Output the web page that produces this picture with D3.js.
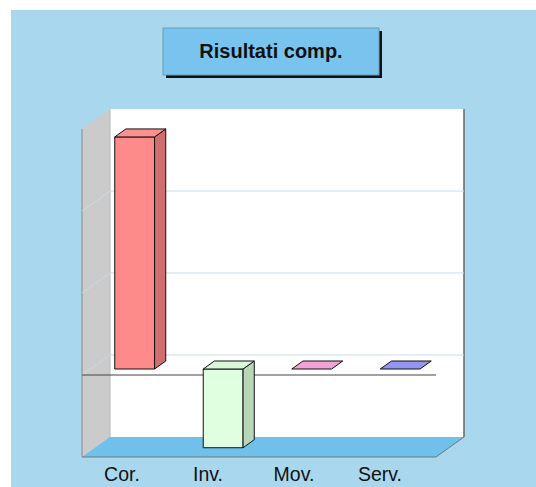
<!DOCTYPE html>
<html>
<head>
<meta charset="utf-8">
<script src="https://cdn.jsdelivr.net/npm/d3@7"></script>
<style>
  html, body { margin: 0; padding: 0; background: #fff; }
  svg { display: block; font-family: "Liberation Sans", Arial, sans-serif; }
</style>
</head>
<body>
<svg id="chart" width="536" height="487"></svg>
<script>
const categories = ['Cor.', 'Inv.', 'Mov.', 'Serv.'];
const values = [2.83, -0.96, 0, 0];
const gridTicks = [0, 1, 2];
const title = 'Risultati comp.';

// face colours per bar: front, top, side
const barColors = [
  {front: '#ff8a8a', top: '#ff9090', side: '#d06e6e'},
  {front: '#e0ffe0', top: '#d8f8d8', side: '#b8d6b8'},
  {front: '#f2a2d6', top: '#f2a2d6', side: '#c880b0'},
  {front: '#9494f2', top: '#9494f2', side: '#7070c8'}
];

const svg = d3.select('#chart');

// background
svg.append('rect')
  .attr('x', 11).attr('y', 10)
  .attr('width', 525).attr('height', 477)
  .attr('fill', '#a9d8ee');

// title box with drop shadow
svg.append('rect')
  .attr('x', 166).attr('y', 31).attr('width', 216).attr('height', 47)
  .attr('fill', '#111');
svg.append('rect')
  .attr('x', 163).attr('y', 28).attr('width', 216).attr('height', 47)
  .attr('fill', '#78c4ee')
  .attr('stroke', '#6a9fb8').attr('stroke-width', 1);
svg.append('text')
  .attr('x', 271).attr('y', 58)
  .attr('text-anchor', 'middle')
  .attr('font-size', 20).attr('font-weight', 'bold')
  .attr('fill', '#111')
  .text(title);

// plot geometry (front plane)
const x0 = 82, x1 = 436;
const depthX = 28, depthY = 20;

const y = d3.scaleLinear().domain([-1, 3]).range([457, 129]);
const x = d3.scaleBand().domain(categories).range([x0, x1])
  .paddingInner(0.55).paddingOuter(0.275);
const labelX = d3.scalePoint().domain(categories).range([122, 380]);

const yTop = y(3), yBot = y(-1);

// side wall
svg.append('polygon')
  .attr('points', [[x0, yTop], [x0 + depthX, yTop - depthY], [x0 + depthX, yBot - depthY], [x0, yBot]].join(' '))
  .attr('fill', '#cbcbcb');
svg.append('line')
  .attr('x1', x0).attr('x2', x0).attr('y1', yTop).attr('y2', yBot)
  .attr('stroke', '#8a8a8a');

// back wall
svg.append('rect')
  .attr('x', x0 + depthX).attr('y', yTop - depthY)
  .attr('width', x1 - x0).attr('height', yBot - yTop)
  .attr('fill', '#ffffff');
svg.append('line')
  .attr('x1', x0 + depthX).attr('x2', x0 + depthX)
  .attr('y1', yTop - depthY).attr('y2', yBot - depthY)
  .attr('stroke', '#b8b8b8');
svg.append('line')
  .attr('x1', x1 + depthX).attr('x2', x1 + depthX)
  .attr('y1', yTop - depthY).attr('y2', yBot - depthY)
  .attr('stroke', '#666').attr('stroke-width', 1.5);

// grid lines on back and side walls
const grid = svg.append('g').attr('stroke', '#c9dce6').attr('fill', 'none');
gridTicks.forEach(t => {
  grid.append('polyline')
    .attr('points', [[x0, y(t)], [x0 + depthX, y(t) - depthY], [x1 + depthX, y(t) - depthY]].join(' '));
});

// floor
svg.append('polygon')
  .attr('points', [[x0, yBot], [x1, yBot], [x1 + depthX, yBot - depthY], [x0 + depthX, yBot - depthY]].join(' '))
  .attr('fill', '#6fc0ea');
svg.append('polyline')
  .attr('points', [[x0, yBot], [x1, yBot], [x1 + depthX, yBot - depthY]].join(' '))
  .attr('fill', 'none').attr('stroke', '#777');

// zero line
svg.append('line')
  .attr('x1', x0).attr('x2', x1)
  .attr('y1', y(0)).attr('y2', y(0))
  .attr('stroke', '#444');

// bars
const zf = 0.3, zb = 0.7;
const bars = svg.append('g').attr('stroke', '#111').attr('stroke-width', 1).attr('stroke-linejoin', 'round');
categories.forEach((c, i) => {
  const v = values[i];
  const col = barColors[i];
  const fx = x(c) + zf * depthX, fy = -zf * depthY;
  const dx = (zb - zf) * depthX, dy = (zb - zf) * depthY;
  const w = x.bandwidth();
  const top = y(Math.max(v, 0)) + fy;
  const bot = y(Math.min(v, 0)) + fy;
  const g = bars.append('g');
  if (bot - top > 0.5) {
    g.append('rect')
      .attr('x', fx).attr('y', top).attr('width', w).attr('height', bot - top)
      .attr('fill', col.front);
    g.append('polygon')
      .attr('points', [[fx + w, top], [fx + w + dx, top - dy], [fx + w + dx, bot - dy], [fx + w, bot]].join(' '))
      .attr('fill', col.side);
  }
  g.append('polygon')
    .attr('points', [[fx, top], [fx + dx, top - dy], [fx + w + dx, top - dy], [fx + w, top]].join(' '))
    .attr('fill', col.top);
});

// category labels
svg.append('g').selectAll('text')
  .data(categories)
  .join('text')
  .attr('x', d => labelX(d))
  .attr('y', 481)
  .attr('text-anchor', 'middle')
  .attr('font-size', 19.5)
  .attr('fill', '#111')
  .text(d => d);
</script>
</body>
</html>
